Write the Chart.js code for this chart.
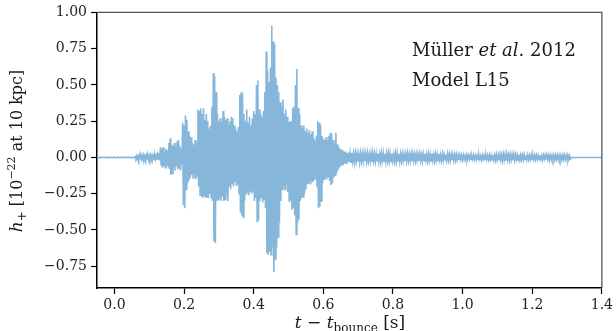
<!DOCTYPE html>
<html lang="en">

<head>
    <meta charset="utf-8">
    <meta name="viewport" content="width=device-width, initial-scale=1">
    <title>Müller et al. 2012 - Model L15</title>
    <script src="https://cdn.jsdelivr.net/npm/chart.js@4.4.0/dist/chart.umd.min.js"></script>
    <style>
        body { margin: 0; background: #ffffff; }
        #wrap { width: 616px; height: 331px; }
    </style>
</head>

<body>
    <div id="wrap">
        <canvas id="myChart"></canvas>
    </div>

    <script>
        // h+: every sample has an upper and a lower swing

        // quiet part right after bounce
        const quietStart = -0.05
        const quietStep = 0.01
        const quietHi = [0.003, 0.002, 0.003, 0.002, 0.003, 0.002, 0.003, 0.002, 0.003, 0.003, 0.002]
        const quietLo = [-0.003, -0.002, -0.003, -0.003, -0.002, -0.003, -0.002, -0.003, -0.002, -0.003, -0.003]

        // small wiggles before the burst
        const onsetStart = 0.06
        const onsetStep = 0.004
        const onsetHi = [0.006, 0.010, 0.008, 0.012, 0.009, 0.011, 0.014, 0.010, 0.012, 0.009,
            0.013, 0.011, 0.015, 0.010, 0.012, 0.014, 0.016]
        const onsetLo = [-0.005, -0.009, -0.011, -0.008, -0.012, -0.010, -0.013, -0.009, -0.011, -0.014,
            -0.010, -0.012, -0.009, -0.013, -0.011, -0.015, -0.012]

        // the burst
        const burstStart = 0.128
        const burstStep = 0.004
        const burstHi = [
            0.03, 0.07, 0.06, 0.07, 0.04, 0.06, 0.05, 0.10, 0.13, 0.09,
            0.08, 0.10, 0.07, 0.11, 0.12, 0.08, 0.06, 0.24, 0.22, 0.29,
            0.26, 0.18, 0.15, 0.14, 0.10, 0.09, 0.12, 0.10, 0.33, 0.32,
            0.34, 0.30, 0.34, 0.26, 0.30, 0.25, 0.20, 0.22, 0.35, 0.58,
            0.56, 0.45, 0.30, 0.25, 0.27, 0.24, 0.32, 0.28, 0.26, 0.27,
            0.22, 0.25, 0.28, 0.27, 0.22, 0.20, 0.18, 0.21, 0.43, 0.45,
            0.44, 0.30, 0.25, 0.33, 0.24, 0.28, 0.22, 0.27, 0.32, 0.30,
            0.50, 0.53, 0.33, 0.30, 0.28, 0.32, 0.45, 0.73, 0.60, 0.52,
            0.62, 0.91, 0.80, 0.78, 0.55, 0.50, 0.45, 0.38, 0.35, 0.40,
            0.30, 0.33, 0.28, 0.24, 0.25, 0.25, 0.34, 0.35, 0.50, 0.61,
            0.34, 0.30, 0.22, 0.20, 0.22, 0.18, 0.20, 0.17, 0.19, 0.16,
            0.18, 0.14, 0.12, 0.15, 0.25, 0.24, 0.22, 0.15, 0.13, 0.12,
            0.14, 0.12, 0.15, 0.17, 0.16, 0.12, 0.10, 0.17, 0.09, 0.07,
            0.06, 0.05, 0.05, 0.04, 0.04, 0.03]
        const burstLo = [
            -0.02, -0.05, -0.07, -0.06, -0.07, -0.05, -0.06, -0.08, -0.12, -0.11,
            -0.07, -0.09, -0.06, -0.08, -0.07, -0.09, -0.05, -0.33, -0.35, -0.22,
            -0.18, -0.16, -0.14, -0.12, -0.14, -0.12, -0.15, -0.13, -0.20, -0.26,
            -0.27, -0.28, -0.26, -0.28, -0.27, -0.28, -0.25, -0.28, -0.30, -0.58,
            -0.59, -0.30, -0.29, -0.28, -0.30, -0.27, -0.30, -0.29, -0.25, -0.30,
            -0.20, -0.22, -0.18, -0.20, -0.17, -0.19, -0.18, -0.25, -0.38, -0.40,
            -0.41, -0.30, -0.25, -0.24, -0.26, -0.23, -0.25, -0.24, -0.30, -0.28,
            -0.44, -0.43, -0.30, -0.28, -0.31, -0.29, -0.35, -0.66, -0.67, -0.65,
            -0.67, -0.62, -0.79, -0.70, -0.62, -0.55, -0.45, -0.30, -0.22, -0.20,
            -0.22, -0.19, -0.24, -0.30, -0.29, -0.36, -0.35, -0.40, -0.53, -0.45,
            -0.43, -0.30, -0.28, -0.27, -0.25, -0.22, -0.18, -0.17, -0.18, -0.16,
            -0.17, -0.15, -0.14, -0.20, -0.35, -0.34, -0.30, -0.18, -0.15, -0.14,
            -0.15, -0.13, -0.16, -0.19, -0.18, -0.14, -0.12, -0.11, -0.09, -0.07,
            -0.06, -0.05, -0.05, -0.04, -0.04, -0.03]

        // low level tail after the burst
        const tailStart = 0.672
        const tailStep = 0.005
        const tailHi = [
            0.034, 0.028, 0.031, 0.025, 0.030, 0.027, 0.024, 0.029, 0.026, 0.030,
            0.025, 0.028, 0.022, 0.027, 0.030, 0.024, 0.026, 0.029, 0.023, 0.027,
            0.030, 0.025, 0.028, 0.031, 0.024, 0.027, 0.022, 0.026, 0.029, 0.025,
            0.023, 0.026, 0.021, 0.025, 0.028, 0.022, 0.024, 0.027, 0.021, 0.025,
            0.022, 0.026, 0.020, 0.024, 0.027, 0.021, 0.025, 0.023, 0.026, 0.020,
            0.024, 0.021, 0.025, 0.019, 0.023, 0.022, 0.020, 0.024, 0.021, 0.019,
            0.022, 0.018, 0.020, 0.016, 0.018, 0.015, 0.017, 0.013, 0.016, 0.014,
            0.015, 0.012, 0.016, 0.014, 0.013, 0.016, 0.012, 0.015, 0.013, 0.016,
            0.014, 0.017, 0.015, 0.018, 0.016, 0.020, 0.018, 0.021, 0.019, 0.022,
            0.020, 0.023, 0.019, 0.021, 0.018, 0.022, 0.019, 0.017, 0.020, 0.018,
            0.016, 0.019, 0.015, 0.017, 0.014, 0.016, 0.013, 0.017, 0.015, 0.014,
            0.016, 0.013, 0.017, 0.015, 0.018, 0.014, 0.016, 0.013, 0.015, 0.017,
            0.014, 0.016, 0.013, 0.015, 0.017, 0.014, 0.015, 0.012]
        const tailLo = [
            -0.030, -0.033, -0.027, -0.031, -0.026, -0.029, -0.032, -0.025, -0.028, -0.026,
            -0.029, -0.024, -0.027, -0.030, -0.025, -0.028, -0.023, -0.027, -0.030, -0.024,
            -0.026, -0.029, -0.024, -0.027, -0.030, -0.023, -0.026, -0.028, -0.024, -0.027,
            -0.025, -0.022, -0.026, -0.023, -0.021, -0.025, -0.027, -0.022, -0.024, -0.020,
            -0.024, -0.021, -0.025, -0.022, -0.020, -0.024, -0.021, -0.025, -0.022, -0.023,
            -0.020, -0.023, -0.019, -0.022, -0.020, -0.018, -0.021, -0.019, -0.022, -0.020,
            -0.018, -0.020, -0.016, -0.017, -0.014, -0.016, -0.013, -0.015, -0.014, -0.012,
            -0.014, -0.013, -0.015, -0.012, -0.014, -0.013, -0.015, -0.012, -0.014, -0.013,
            -0.015, -0.014, -0.017, -0.016, -0.019, -0.017, -0.020, -0.018, -0.021, -0.019,
            -0.022, -0.018, -0.020, -0.017, -0.021, -0.018, -0.016, -0.019, -0.017, -0.015,
            -0.017, -0.014, -0.016, -0.015, -0.013, -0.016, -0.014, -0.015, -0.013, -0.016,
            -0.014, -0.016, -0.013, -0.015, -0.014, -0.017, -0.015, -0.013, -0.016, -0.014,
            -0.015, -0.013, -0.016, -0.014, -0.013, -0.015, -0.014, -0.013]

        // end of the simulation, flat zero up to the axis edge
        const endT = [1.31, 1.4]
        const endH = [0, 0]

        const xTicks = [0.0, 0.2, 0.4, 0.6, 0.8, 1.0, 1.2, 1.4]
        const yTicks = [-0.75, -0.5, -0.25, 0.0, 0.25, 0.5, 0.75, 1.0]

        const serif = '"DejaVu Serif", "Liberation Serif", serif'

        function addSwings(out, start, step, hi, lo) {
            for (let i = 0; i < hi.length; i++) {
                out.push({ x: start + i * step, y: hi[i] })
                out.push({ x: start + i * step + step / 2, y: lo[i] })
            }
        }

        const points = []
        addSwings(points, quietStart, quietStep, quietHi, quietLo)
        addSwings(points, onsetStart, onsetStep, onsetHi, onsetLo)
        addSwings(points, burstStart, burstStep, burstHi, burstLo)
        addSwings(points, tailStart, tailStep, tailHi, tailLo)
        for (let i = 0; i < endT.length; i++) {
            points.push({ x: endT[i], y: endH[i] })
        }

        // draws a list of [text, font, baseline shift] pieces one after another
        function runsWidth(ctx, runs) {
            let w = 0
            for (const r of runs) {
                ctx.font = r[1]
                w += ctx.measureText(r[0]).width
            }
            return w
        }

        function drawRuns(ctx, x, y, runs) {
            for (const r of runs) {
                ctx.font = r[1]
                ctx.fillText(r[0], x, y + (r[2] || 0))
                x += ctx.measureText(r[0]).width
            }
        }

        const decor = {
            id: 'decor',
            beforeDraw(chart) {
                const ctx = chart.ctx
                ctx.save()
                ctx.fillStyle = '#ffffff'
                ctx.fillRect(0, 0, chart.width, chart.height)
                ctx.restore()
            },
            afterDraw(chart) {
                const ctx = chart.ctx
                const a = chart.chartArea
                ctx.save()

                // top and right frame
                ctx.strokeStyle = '#555555'
                ctx.lineWidth = 1.3
                ctx.beginPath()
                ctx.moveTo(a.left, a.top)
                ctx.lineTo(a.right, a.top)
                ctx.lineTo(a.right, a.bottom)
                ctx.stroke()

                ctx.fillStyle = '#1a1a1a'
                ctx.textBaseline = 'alphabetic'

                // label in the corner
                drawRuns(ctx, 412, 56, [
                    ['Müller ', '18px ' + serif],
                    ['et al.', 'italic 18px ' + serif],
                    [' 2012', '18px ' + serif]
                ])
                drawRuns(ctx, 412, 86, [['Model L15', '18px ' + serif]])

                // x title
                const xRuns = [
                    ['t', 'italic 17px ' + serif],
                    [' − ', '17px ' + serif],
                    ['t', 'italic 17px ' + serif],
                    ['bounce', '12px ' + serif, 4],
                    [' [s]', '17px ' + serif]
                ]
                drawRuns(ctx, 350 - runsWidth(ctx, xRuns) / 2, 328, xRuns)

                // y title
                const yRuns = [
                    ['h', 'italic 17px ' + serif],
                    ['+', '12px ' + serif, 4],
                    [' [10', '16px ' + serif],
                    ['−22', '11px ' + serif, -7],
                    [' at 10 kpc]', '16px ' + serif]
                ]
                ctx.translate(22, 151)
                ctx.rotate(-Math.PI / 2)
                drawRuns(ctx, -runsWidth(ctx, yRuns) / 2, 0, yRuns)

                ctx.restore()
            }
        }

        const config = {
            type: 'line',
            data: {
                datasets: [{
                    data: points,
                    borderColor: '#86b6d9',
                    borderWidth: 1.6,
                    pointRadius: 0,
                    tension: 0,
                    fill: false
                }]
            },
            options: {
                responsive: true,
                maintainAspectRatio: false,
                animation: false,
                layout: { padding: { top: 10, right: 13, left: 0, bottom: 0 } },
                plugins: {
                    legend: { display: false },
                    tooltip: { enabled: false }
                },
                scales: {
                    x: {
                        type: 'linear',
                        min: -0.05,
                        max: 1.4,
                        afterBuildTicks: s => { s.ticks = xTicks.map(v => ({ value: v })) },
                        afterFit: s => { s.height = 43 },
                        grid: { drawOnChartArea: false, drawTicks: true, tickLength: 6, tickWidth: 1.2, tickColor: '#000000' },
                        border: { display: true, color: '#000000', width: 1.5 },
                        ticks: {
                            color: '#222222',
                            font: { family: serif, size: 14 },
                            padding: 3,
                            maxRotation: 0,
                            callback: v => v.toFixed(1)
                        }
                    },
                    y: {
                        type: 'linear',
                        min: -0.9,
                        max: 1.0,
                        afterBuildTicks: s => { s.ticks = yTicks.map(v => ({ value: v })) },
                        afterFit: s => { s.width = 97 },
                        grid: { drawOnChartArea: false, drawTicks: true, tickLength: 6, tickWidth: 1.2, tickColor: '#000000' },
                        border: { display: true, color: '#000000', width: 1.5 },
                        ticks: {
                            color: '#222222',
                            font: { family: serif, size: 14 },
                            padding: 4,
                            callback: v => v.toFixed(2).replace('-', '−')
                        }
                    }
                }
            },
            plugins: [decor]
        }

        const myChart = new Chart(document.getElementById('myChart'), config)
    </script>
</body>

</html>
